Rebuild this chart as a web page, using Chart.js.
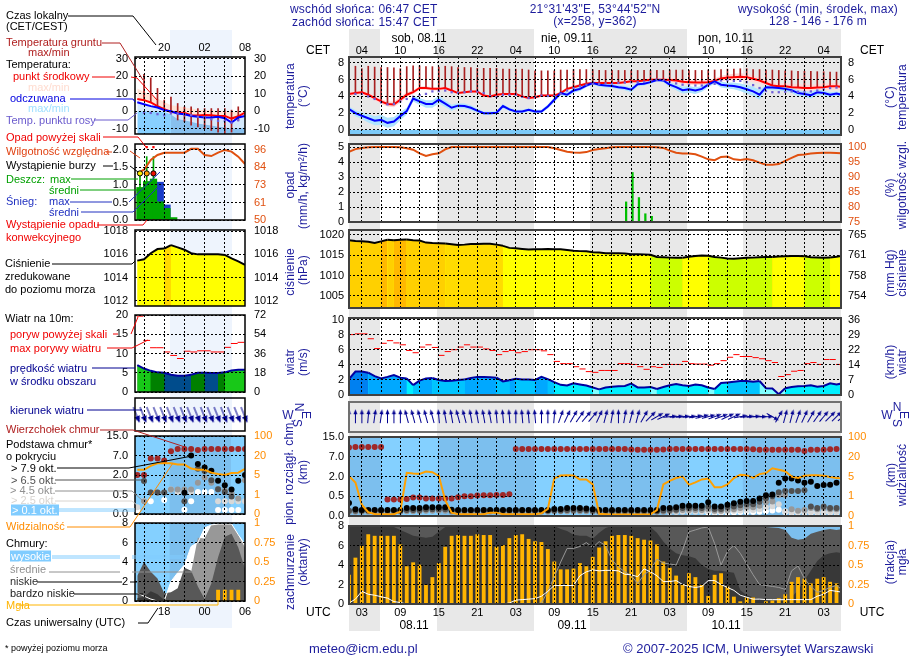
<!DOCTYPE html>
<html>
<head>
<meta charset="utf-8">
<title>Meteogram</title>
<script src="https://cdn.jsdelivr.net/npm/chart.js@4/dist/chart.umd.min.js"></script>
<style>
  html, body { margin: 0; padding: 0; background: #fff; }
  #page { position: relative; width: 910px; height: 660px; overflow: hidden; font-family: "Liberation Sans", Arial, sans-serif; }
  #page canvas { position: absolute; z-index: 1; }
  .band { position: absolute; z-index: 0; }
  .txt { position: absolute; z-index: 3; white-space: nowrap; line-height: 1; }
  svg { position: absolute; left: 0; top: 0; z-index: 2; }
</style>
</head>
<body>
<div id="page"></div>
<script>
// hourly axis, UTC hours counted from 00 on 08.11
const hours = Array.from({ length: 78 }, (_, i) => i + 1);
const utcTicks = [3, 9, 15, 21, 27, 33, 39, 45, 51, 57, 63, 69, 75];
const cetLabels = ['04', '10', '16', '22', '04', '10', '16', '22', '04', '10', '16', '22', '04'];
const utcLabels = ['03', '09', '15', '21', '03', '09', '15', '21', '03', '09', '15', '21', '03'];
const gridHours = [3, 6, 9, 12, 15, 18, 21, 24, 27, 30, 33, 36, 39, 42, 45, 48, 51, 54, 57, 60, 63, 66, 69, 72, 75];
const nightHours = [[1, 5.95], [14.85, 29.95], [38.6, 53.7], [62.4, 77.7]];

const temperature = [4.3,4.4,4.5,4.2,3.8,3.4,3.1,3.05,3.6,4.2,
  4.5,5.0,5.0,4.9,4.9,5.0,4.7,4.4,4.5,4.6,
  4.6,4.1,4.0,4.2,4.3,4.3,4.3,4.0,3.8,3.9,
  4.1,4.1,4.1,4.4,4.9,5.1,5.3,5.5,5.6,5.6,
  5.6,5.6,5.6,5.7,5.8,5.8,5.9,6.0,6.0,6.0,
  5.95,5.9,5.75,5.7,5.65,5.65,5.7,5.85,6.15,6.25,
  6.3,6.35,6.3,6.1,5.9,5.6,5.3,5.2,5.2,5.1,
  5.05,5.0,5.0,5.05,5.1,5.2,5.2,5.15];
const feelsLike = [2.5,2.0,1.7,1.4,1.1,1.2,.85,1.0,1.65,2.25,
  3.75,3.4,3.1,3.1,3.6,3.15,2.65,2.9,2.85,2.65,
  2.3,2.0,2.0,2.05,2.85,2.45,2.2,2.2,2.4,2.2,
  2.2,2.8,3.6,4.4,4.2,4.7,4.9,5.3,5.6,5.4,
  5.3,5.25,5.1,5.0,4.8,5.45,5.5,5.7,5.95,5.9,
  5.4,5.1,4.75,4.85,4.7,4.9,5.4,5.8,5.4,5.3,
  5.25,5.1,4.85,4.6,4.2,5.1,5.05,5.0,4.9,4.75,
  4.4,4.3,4.15,4.5,4.4,4.2,4.35,4.15];
const dewPoint = [4.3,4.3,4.3,4.0,3.7,3.3,3.05,3.1,3.4,3.7,
  3.95,4.15,4.3,4.6,4.65,4.7,4.5,4.4,4.5,4.6,
  4.6,4.4,4.05,3.95,4.2,4.2,4.2,3.95,3.8,3.9,
  4.1,4.05,4.05,4.3,4.7,5.0,5.2,5.4,5.5,5.5,
  5.55,5.55,5.6,5.65,5.7,5.7,5.75,5.9,6.0,5.95,
  5.75,5.55,5.4,5.35,5.3,5.3,5.4,5.5,5.9,5.9,
  5.85,5.85,5.7,5.35,5.0,4.65,4.5,4.5,4.55,4.6,
  4.55,4.55,4.6,4.7,4.85,5.0,5.05,5.0];
const tempSpread = [.2,.2,.2,.25,.3,.3,.3,.35,.35,.3,
  .25,.2,.2,.2,.2,.2,.2,.15,.15,.15,
  .15,.15,.15,.15,.15,.15,.15,.15,.15,.15,
  .15,.15,.15,.2,.2,.2,.2,.2,.2,.2,
  .2,.2,.2,.2,.2,.2,.2,.2,.2,.2,
  .25,.3,.3,.3,.3,.3,.3,.3,.3,.35,
  .4,.4,.4,.4,.35,.35,.35,.35,.35,.4,
  .4,.4,.4,.4,.4,.4,.4,.4];
const feelsSpread = [.3,.35,.4,.5,.55,.6,.6,.55,.5,.4,
  .35,.4,.45,.45,.45,.4,.35,.3,.3,.3,
  .25,.2,.2,.2,.25,.2,.2,.2,.2,.2,
  .2,.25,.3,.3,.3,.25,.25,.2,.2,.25,
  .25,.25,.25,.25,.3,.25,.2,.2,.15,.2,
  .3,.35,.4,.4,.4,.35,.3,.25,.35,.35,
  .4,.45,.5,.55,.6,.3,.3,.3,.3,.35,
  .35,.35,.4,.35,.3,.3,.25,.2];
const soilMax = [null,7.6,7.3,7.6,7.5,7.45,7.45,7.4,7.3,7.55,
  7.65,7.65,7.55,7.55,7.5,7.6,7.55,7.45,7.45,7.45,
  7.35,7.35,7.35,7.35,7.25,7.25,7.25,7.25,7.15,7.05,
  7.05,7.05,7.05,7.15,7.15,7.2,7.2,7.2,7.2,7.1,
  7.1,7.1,7.1,7.1,7.1,7.1,7.1,7.1,7.1,7.1,
  7.15,7.15,7.15,7.15,7.1,7.1,7.15,7.15,7.2,7.25,
  7.25,7.3,7.3,7.2,7.2,7.15,7.15,7.1,7.05,7.05,
  7.0,7.0,7.0,6.95,6.95,6.9,6.9,6.85];
const soilMin = [null,4.4,4.5,4.2,3.8,3.4,3.1,3.05,3.6,4.2,
  4.7,5.2,5.0,5.0,5.0,5.0,4.8,4.5,4.6,4.7,
  4.7,4.2,4.1,4.3,4.4,4.4,4.4,4.1,3.9,4.0,
  4.2,4.2,4.2,4.5,5.0,5.2,5.4,5.6,5.7,5.7,
  5.7,5.7,5.7,5.8,5.9,5.9,6.0,6.05,6.05,6.05,
  6.0,5.95,5.8,5.75,5.7,5.7,5.75,5.9,6.2,6.3,
  6.35,6.4,6.35,6.2,6.0,5.7,5.4,5.3,5.3,5.2,
  5.1,5.1,5.1,5.1,5.2,5.3,5.3,5.2];
const humidity = [98.4,99.3,99.7,99.9,100,100,100,100,99.9,99.6,
  99.1,97.9,97,97.6,97.9,99.2,100,100,100,100,
  100,100,100,100,100,100,100,100,100,100,
  100,100,99.6,99,98.4,98.2,98.1,98.3,99,99.3,
  99.6,99.9,100,100,100,100,100,100,99.9,99.7,
  98.8,98.1,97.8,97.8,97.6,96.8,95.9,95.6,96.7,96.8,
  95.9,95.7,96,95.6,94.8,94.1,94.1,94.3,95.4,96.4,
  97.3,97.5,97.8,98,98.1,98.1,98,97.9];
const rain = [0,0,0,0,0,0,0,0,0,0,
  0,0,0,0,0,0,0,0,0,0,
  0,0,0,0,0,0,0,0,0,0,
  0,0,0,0,0,0,0,0,0,0,
  0,0,0,1.34,3.3,1.63,.55,.38,0,0,
  0,0,0,0,0,0,0,0,0,0,
  .02,0,.02,.03,0,.02,0,.02,0,0,
  0,0,0,0,0,0,0,0];
const pressure = [1018.7,1018.5,1018.45,1018.3,1018.0,1018.4,1018.8,1018.7,1018.8,1018.85,
  1018.7,1018.6,1018.1,1018.0,1017.95,1017.9,1017.7,1017.5,1017.6,1017.75,
  1017.75,1017.8,1017.8,1017.6,1017.3,1016.8,1016.7,1016.55,1016.4,1016.45,
  1016.45,1016.5,1016.45,1016.45,1016.3,1016.1,1016,1015.95,1015.75,1015.65,
  1015.5,1015.45,1015.45,1015.4,1015.25,1015.25,1015.2,1015.1,1014.55,1014.5,
  1014.4,1014.35,1014.35,1014.6,1014.8,1014.95,1014.85,1014.55,1014.4,1014.2,
  1014.15,1014.25,1014.35,1014.4,1014.5,1014.55,1014.55,1014.65,1014.75,1014.8,
  1014.8,1014.75,1014.5,1014.45,1014.4,1014.45,1014.6,1014.85];
const windSpeed = [2.1,3.1,3.1,2.95,2.5,2.2,2.4,2.65,2.3,2.2,
  1.3,1.9,2.2,2.25,2.0,1.85,1.9,2.0,2.05,2.25,
  2.4,2.4,2.35,2.3,1.8,1.95,2.15,2.05,2.05,2.0,
  2.4,2.1,1.7,1.35,1.25,1.55,1.4,1.25,1.0,.75,
  1.0,1.1,1.15,1.2,1.5,1.0,1.0,1.05,.8,1.05,
  1.3,1.45,1.3,1.2,1.4,1.3,1.0,.8,1.6,1.65,
  1.75,1.85,1.85,1.75,1.85,.9,.85,.1,.9,1.05,
  1.15,1.2,1.3,1.1,1.2,1.55,1.4,1.55];
const windGust = [8,8.1,8.1,7.45,6.15,6.85,7.2,6.9,6.65,5.9,
  5.6,6.35,6.65,6.3,5.25,5.75,6,6.35,6.65,6.35,
  6.35,6.1,5.9,5.35,5.75,5.9,5.6,5.75,6,6,
  5.85,5.35,4.45,4.15,4.15,3.75,3.45,3.1,3,3.25,
  3.25,3.25,4.15,4.15,4.05,3.75,3.4,3.75,3.65,4.05,
  4.05,4.05,4.45,4.15,4.1,4.1,3.95,4.15,4.55,5,
  5.35,5.1,5.1,4.95,4.8,4.55,4.3,2.45,2.7,3.15,
  3.25,4.15,4.3,4.05,4.7,4.7,4.05,4.05];
const windDir = [0,0,0,5,8,8,0,0,0,-15,
  -15,-15,-15,-15,-5,-10,-10,-15,-15,-10,
  -10,-10,-10,-5,-5,-5,0,-5,-5,-5,
  0,0,5,20,25,30,35,40,40,25,
  15,10,0,10,15,15,30,45,60,65,
  85,85,85,85,80,75,75,70,70,65,
  65,80,85,85,90,90,120,30,15,15,
  20,25,30,35,40,45,45,50];

const cloudTop = [10.7,10.9,10.9,10.9,10.9,10.9,.42,.42,.42,.43,
  .47,.47,.44,.44,.44,.44,.44,.475,.5,.5,
  .55,.58,.58,.6,.6,.65,10.1,10.1,10.1,10.1,
  10.1,10.1,10.1,10.1,10.1,10.1,10.1,10.1,10.1,10.1,
  10.1,10.1,10.1,10.1,9.9,9.8,9.8,9.8,9.8,9.9,
  10.1,10.1,10.1,10.1,10.1,10.1,10.1,10.1,10.1,10.1,
  10.1,10.1,10.1,10,9.8,9.8,9.8,9.8,9.8,9.8,
  9.8,9.3,9.8,9.8,9.8,10,10.1,10.1];
const base79 = [.33,.17,.155,.155,.155,.155,.155,.155,.155,.2,
  .2,.2,.22,.22,.22,.22,.16,.155,.155,.155,
  .155,.155,.155,.155,.155,.155,.155,.155,.155,.155,
  .155,.155,.18,.18,.2,.2,.2,.19,.17,.15,
  .15,.15,.15,.15,.15,.15,.15,.15,.15,.2,
  .2,.22,.26,.26,.26,.26,.345,.24,.24,.285,
  .32,.36,.38,.38,.44,.58,.63,1.53,1.84,1.84,
  1.69,1.53,1.6,1.28,1.35,1.38,1.53,1.28];
const base65 = [.13,.13,.13,.13,.13,.13,.13,.13,.13,.15,
  .15,.15,.17,.17,.17,.17,.13,.13,.13,.13,
  .13,.13,.13,.13,.13,.13,.13,.13,.13,.13,
  .13,.13,.14,.14,.15,.15,.15,.15,.13,.12,
  .12,.12,.12,.12,.12,.12,.12,.12,.12,.14,
  .15,.16,.2,.2,.2,.2,.24,.18,.18,.22,
  .24,.27,.3,.3,.36,.45,.5,.8,.9,.9,
  .9,.95,.24,.2,.24,.2,.2,.24];
const base45 = [.11,.11,.11,.11,.11,.11,.11,.11,.11,.12,
  .12,.12,.13,.13,.13,.13,.11,.11,.11,.11,
  .11,.11,.11,.11,.11,.11,.11,.11,.11,.11,
  .11,.11,.12,.12,.12,.12,.12,.12,.11,.1,
  .1,.1,.1,.1,.1,.1,.1,.1,.1,.11,
  .12,.13,.15,.15,.15,.15,.17,.13,.13,.15,
  .17,.2,.22,.22,.26,.35,.37,.6,.6,.17,
  .13,.15,.2,.17,.2,.17,.17,.2];
const base25 = [null,null,null,null,null,null,null,null,null,null,
  null,null,null,null,null,null,null,null,null,null,
  null,null,null,null,null,null,null,null,null,null,
  null,null,null,null,null,null,null,null,null,null,
  null,null,null,null,null,null,null,null,null,null,
  .1,.1,.11,.11,.11,.11,.12,.11,.11,.12,
  .13,.14,.15,.15,.17,.22,.25,.3,.12,.1,
  .1,.1,.1,.1,.1,.1,.1,.1];
const base01 = [null,null,null,null,null,null,null,null,null,null,
  null,null,null,null,null,null,null,null,null,null,
  null,null,null,null,null,null,null,null,null,null,
  null,null,null,null,null,null,null,null,null,null,
  null,null,null,null,null,null,null,null,null,null,
  null,null,null,null,null,null,.09,.09,.09,.09,
  .09,.1,.1,.1,.11,.12,.14,.16,.1,.09,
  .09,.09,.09,.09,.09,.09,.09,.09];
const visibility = [5.3,3.8,.57,.19,.1,.09,.09,.09,.22,7.8,
  7.3,7,8.8,8.3,5.5,.8,.17,.09,.09,.09,
  .09,.09,.17,.17,.09,.09,.09,.09,.09,.09,
  .14,.36,4.6,5.7,6,5.7,4.4,4.4,3.4,.11,
  .09,.07,.07,.07,.07,.07,.07,.09,.3,3.4,
  4.1,4.7,5,3.3,3.8,4.4,4.6,2.8,2.8,3.4,
  4.7,6.3,6,4.7,6.8,7.6,11.3,10.2,9,5,
  4.7,5.5,6,6,5.5,4.9,4.7,4.6];

const cloudVeryLow = [8,8,8,8,8,8,8,7.9,7.6,7.3,
  7,6.9,6.8,6.9,7.4,7.9,8,8,8,8,
  8,8,8,8,8,8,8,8,8,8,
  8,8,8,7.7,7.5,7.1,7,7,6.7,7.3,
  7.8,8,8,8,8,8,8,7.9,7.3,6.4,
  5.7,5.2,5,4.9,4.7,4,3.6,3.4,3.4,3.3,
  3.2,1.4,.9,.7,.5,.4,.3,.3,.3,.7,
  1.4,2.4,3.4,4.4,5,5.2,5.3,5.2];
const cloudLow = [6.9,8,8,8,8,8,8,8,8,8,
  8,8,8,8,8,8,8,8,8,8,
  8,8,8,8,8,8,8,8,8,8,
  8,8,8,8,8,8,8,8,8,8,
  8,8,8,8,8,8,8,8,8,8,
  8,8,8,7.9,7.9,7.9,7.9,8,8,8,
  8,8,8,8,8,7.9,7.85,7.8,7.6,6.8,
  6.6,6.7,7.2,7.4,7.6,7.7,7.6,7.7];
const cloudMid = [0,0,0,0,0,0,0,0,0,0,
  0,0,0,0,0,0,0,0,0,0,
  0,0,0,0,0,0,0,0,0,0,
  .1,1.3,2.8,4.3,5.7,5.7,5.9,6.3,5.8,6.4,
  6,4.5,3.8,3.3,2.9,2.1,3,3.5,4.6,4.2,
  4.1,4,5.5,7.4,7.6,7.8,7.9,6.2,4,5.4,
  6,5.2,4.1,3,2,1.9,1.8,1.7,1.5,3.4,
  3.9,2.6,1.8,1.2,1.4,1.7,1.9,1.4];
const cloudHigh = [.1,.5,1.3,1,.9,.75,.6,.25,.15,0,
  0,0,0,0,0,0,0,0,0,0,
  0,0,0,0,0,.1,.4,.45,.5,.55,
  .8,1.3,1.9,1.9,1.9,1.9,2.9,3.3,3.5,3.4,
  3.45,3.45,3.4,3.05,3,2.8,3.6,3.3,2.9,2.3,
  2.3,2.4,2,1.8,1.7,1.8,2.4,2.4,2,1.7,
  1.4,.9,.7,.5,.5,.45,.45,.45,.45,.45,
  .45,.45,.45,.8,1,1.4,1.3,1.2];
const fog = [.37,.59,.74,.89,.87,.87,.87,.87,.76,.48,
  .53,.5,.24,.34,.52,.73,.87,.88,.87,.87,
  .89,.88,.88,.73,.75,.84,.88,.89,.83,.8,
  .79,.7,.54,.44,.44,.45,.52,.48,.6,.72,
  .8,.87,.88,.88,.87,.84,.82,.81,.76,.54,
  .46,.36,.25,.39,.34,.24,.1,.37,.39,.22,
  .09,.03,.08,.08,0,.03,.04,.07,.12,.28,
  .34,.32,.26,.32,.34,.28,.26,.28];

// legend panels on the left, hours 14..30
const legendHours = [14,15,16,17,18,19,20,21,22,23,24,25,26,27,28,29,30];
const legendGrid = [15, 18, 21, 24, 27];
const legendDay = [[18.8, 27.9]];
const legendTopTicks = [18, 24, 30];
const legendTopLabels = ['20', '02', '08'];
const legendBottomLabels = ['18', '00', '06'];
const legTemp = [7,6.3,5,2.9,1.1,-.4,-.8,-1,-2.3,-2.5,-2.1,-2.3,-2.7,-2.7,-4.2,-2.9,-.8];
const legFeels = [5.1,4,2.9,2.1,.6,0,-1.3,-1.7,-2.7,-3.2,-3.6,-3.6,-3.2,-4,-6.5,-3.6,-2.7];
const legTempMax = [13,11,9.5,7.2,5.3,3.4,2.9,2.1,1.5,1,.6,.6,.2,.2,-.4,-.4,0];
const legFeelsMin = [0,0,0,-.2,-.5,-1.8,-4.4,-5.2,-6,-7,-7.6,-8.2,-8.8,-9.2,-10,-9.7,-9.5];
const legDew = [null,-1,-1,-1.7,-2.3,-1.3,-1.3,-1.7,-2.3,-3.2,-3.6,-4.6,-5.5,-5.5,-6.5,-5.1,-2.3];
const legSoilMax = [null,21,19,13,6.3,8,4.4,2.5,2.5,1.5,1.5,1.5,1.5,1.5,.6,2.5,null];
const legSoilMin = [null,6.3,5.3,3,1,-.5,-5,-6,-8,-9,-10,-11,-11.9,-12.9,-11.9,-5.5,null];
const legHumidity = [80.6,83,89.5,92.7,94.2,94.2,94.2,94.2,96.7,96.7,92.7,92,94.2,96,94.9,91.6,86.8];
const legRainHours = [14,15,16,17,18,19];
const legRainMean = [.93,1.1,1.17,.52,.33,.07];
const legRainMax = [1.33,1.81,1.81,null,null,null];
const legSnowMax = [0,0,0,1.08,.43,0];
const legStormHours = [14,15,16];
const legStormLevel = [1.33,1.33,1.33];
const legOverHours = [15,16];
const legOverLevel = [2.08,2.08];
const legConvectiveHours = [14,15,16,17,18];
const legConvective = [0,0,0,0,0];
const legPressure = [1015.46,1015.58,1016.1,1016.46,1016.5,1016.8,1016.6,1016.4,1016.1,1016,1016,1016,1016,1015.95,1015.65,1015.4,1015.1];
const legWind = [7,6.1,5.5,5.1,5,4.5,4.2,4.2,4.5,5,5,4.95,4.95,5.1,5.6,5.8,5.8];
const legGust = [19.7,13.4,11.5,11.5,10.4,9.5,8.7,10.6,10.4,10.7,10.7,10.4,10.4,11.6,12.6,12.9,null];
const legDir = [158,158,158,158,158,158,158,158,158,158,158,158,158,158,158,158,158];
const legTop = [2,2,6.2,6.2,5.7,8.7,9.7,9.7,9.7,9.3,9.7,9.7,9.7,9.7,9.7,9.7,9.7];
const leg79 = [null,null,null,null,null,null,null,.63,7,4.8,3.9,3.1,1.56,1.22,.89,1.56,2];
const leg65 = [null,1.53,.65,.65,.65,null,null,.33,null,3.6,3,1.6,.9,.7,.45,null,null];
const leg45 = [null,.33,.65,.65,.65,.88,.88,.88,.88,1.4,1.8,1.4,.9,.8,.6,.4,1.6];
const leg25 = [.17,.33,null,null,null,.88,.7,.7,.7,null,null,null,.33,.33,.33,.33,.33];
const leg01 = [.09,.33,.33,null,.36,null,null,.11,.33,.7,.7,.7,.1,.1,.1,.1,null];
const legVisibility = [9,9,12,14,14,14,13,13,10,9,9,6.8,5.8,5,6.5,6.8,9.7];
const legCloudHigh = [.8,.5,.2,0,0,2,2.9,3.7,5.6,6,7.5,7.8,7.9,7.9,7.9,6.8,5.8];
const legCloudMid = [0,0,0,0,0,0,0,.2,3,6.5,6.4,7.8,7.9,7.9,7.9,6.8,5.5];
const legCloudLow = [2.6,4,3,2.3,.8,.9,1.3,3.4,3.1,1.5,.2,1.8,4.5,6.6,6.9,5.5,3.3];
const legCloudVeryLow = [.3,.4,1,.7,.1,0,0,0,0,0,0,0,0,0,0,0,0];
const legFog = [0,0,0,0,0,0,0,0,0,0,0,0,.14,.14,.14,.14,0];

// axis tick values and labels
const tempTicks = [8, 6, 4, 2, 0];
const tempLabels = ['8', '6', '4', '2', '0'];
const rainTicks = [5, 4, 3, 2, 1, 0];
const rainLabels = ['5', '4', '3', '2', '1', '0'];
const humTicks = [100, 95, 90, 85, 80, 75];
const humLabels = ['100', '95', '90', '85', '80', '75'];
const presTicks = [1020, 1015, 1010, 1005];
const presLabels = ['1020', '1015', '1010', '1005'];
const mmHgLabels = ['765', '761', '758', '754'];
const windTicks = [10, 8, 6, 4, 2, 0];
const windLabels = ['10', '8', '6', '4', '2', '0'];
const kmhLabels = ['36', '29', '22', '14', '7', '0'];
const baseTicks = [4, 3, 2, 1, 0];
const baseLabels = ['15.0', '7.0', '2.0', '0.5', '0.0'];
const visLabels = ['100', '20', '5', '1', '0'];
const cloudTicks = [8, 6, 4, 2, 0];
const cloudLabels = ['8', '6', '4', '2', '0'];
const fogTicks = [1, .75, .5, .25, 0];
const fogLabels = ['1', '0.75', '0.5', '0.25', '0'];
const legTempTicks = [30, 20, 10, 0, -10];
const legTempLabels = ['30', '20', '10', '0', '-10'];
const legRainTicks = [2, 1.5, 1, .5, 0];
const legRainLabels = ['2.0', '1.5', '1.0', '0.5', '0.0'];
const legHumTicks = [96, 84.5, 73, 61.5, 50];
const legHumLabels = ['96', '84', '73', '61', '50'];
const legPresTicks = [1018, 1016, 1014, 1012];
const legPresLabels = ['1018', '1016', '1014', '1012'];
const legWindTicks = [20, 15, 10, 5, 0];
const legWindLabels = ['20', '15', '10', '5', '0'];
const legKmhLabels = ['72', '54', '36', '18', '0'];

Chart.defaults.font.family = '"Liberation Sans", Arial, sans-serif';
Chart.defaults.font.size = 11;
Chart.defaults.color = '#000';

const page = document.getElementById('page');
// PAD has to stay above half a label plus the tick padding, or the scales push the chart area in
const SIDE = 50, PAD = 22;

const kmKnots = [0, .5, 2, 7, 15];
const visKnots = [0, 1, 5, 20, 100];
// the cloud axis is piecewise linear, one step between each labelled value
function toPos(v, knots) {
  if (v === null) return null;
  for (let i = 1; i < knots.length; i++) {
    if (v <= knots[i]) return i - 1 + (v - knots[i - 1]) / (knots[i] - knots[i - 1]);
  }
  return knots.length - 1;
}

function pts(xs, ys, dx) {
  return ys.map((y, i) => ({ x: xs[i] + (dx || 0), y: y }));
}
function line(xs, ys, color, width, extra) {
  return Object.assign({ type: 'line', data: pts(xs, ys), borderColor: color, borderWidth: width,
    pointRadius: 0, tension: 0, fill: false }, extra);
}
function area(xs, ys, color, fill, extra) {
  return Object.assign({ type: 'line', data: pts(xs, ys), borderWidth: 0, backgroundColor: color,
    pointRadius: 0, tension: 0, fill: fill }, extra);
}
function dots(xs, ys, color, radius, extra) {
  return Object.assign({ type: 'line', data: pts(xs, ys), showLine: false, pointRadius: radius,
    pointBackgroundColor: color, pointBorderWidth: 0 }, extra);
}
function bars(xs, ys, color, thick, dx, extra) {
  return Object.assign({ type: 'bar', data: pts(xs, ys, dx), backgroundColor: color, borderWidth: 0,
    grouped: false, barPercentage: 1, categoryPercentage: 1, maxBarThickness: thick }, extra);
}

const backdrop = {
  id: 'backdrop',
  beforeDatasetsDraw(chart, args, o) {
    if (!o.color) return;
    const a = chart.chartArea, x = chart.scales.x, ctx = chart.ctx;
    ctx.save();
    ctx.fillStyle = o.color;
    ctx.fillRect(a.left, a.top, a.width, a.height);
    ctx.fillStyle = o.shade;
    o.bands.forEach(b => {
      const x0 = x.getPixelForValue(b[0]), x1 = x.getPixelForValue(b[1]);
      ctx.fillRect(x0, a.top, x1 - x0, a.height);
    });
    ctx.restore();
  }
};
const frame = {
  id: 'frame',
  afterDraw(chart, args, o) {
    const a = chart.chartArea, ctx = chart.ctx;
    ctx.save();
    ctx.strokeStyle = o.color;
    ctx.lineWidth = o.width;
    ctx.strokeRect(a.left, a.top, a.width, a.height);
    ctx.restore();
  }
};

function yAxis(position, min, max, ticks, labels, color, padding, grid) {
  return {
    type: 'linear', position: position, min: min, max: max,
    afterBuildTicks: s => { s.ticks = ticks.map(v => ({ value: v })); },
    afterFit: s => { s.width = SIDE; },
    grid: grid ? { color: '#000', z: 1, drawTicks: false, lineWidth: 1 } : { display: false, drawTicks: false },
    border: { display: false, dash: [2, 2] },
    ticks: { display: labels.length > 0, color: color, padding: padding, autoSkip: false,
      callback: (v, i) => labels[i] }
  };
}

function panel(box, cfg) {
  const L = box[0], T = box[1], R = box[2], B = box[3];
  const c = document.createElement('canvas');
  c.width = R - L + SIDE * 2;
  c.height = B - T + PAD * 2;
  c.style.left = (L - SIDE) + 'px';
  c.style.top = (T - PAD) + 'px';
  page.appendChild(c);
  const left = cfg.left, right = cfg.right || {};
  const lMin = left.min, lMax = left.max;
  return new Chart(c, {
    type: 'line',
    data: { datasets: cfg.datasets },
    plugins: [backdrop, frame],
    options: {
      responsive: false, animation: false, devicePixelRatio: 1, events: [],
      layout: { autoPadding: false, padding: { top: PAD, bottom: PAD, left: 0, right: 0 } },
      plugins: {
        legend: { display: false }, tooltip: { enabled: false },
        backdrop: cfg.backdrop || {},
        frame: { color: cfg.frameColor || '#000', width: cfg.frameWidth || 1.5 }
      },
      scales: {
        x: {
          type: 'linear', min: cfg.xMin, max: cfg.xMax, offset: false,
          afterBuildTicks: s => { s.ticks = (cfg.xGrid || []).map(v => ({ value: v })); },
          afterFit: s => { s.height = 0; },
          grid: { color: '#000', z: 1, drawTicks: false, offset: false },
          border: { display: false, dash: [2, 2] },
          ticks: { display: false }
        },
        y: yAxis('left', lMin, lMax, left.ticks || [], left.labels || [], left.color || '#000', left.padding || 7, !left.noGrid),
        y1: yAxis('right',
          right.min !== undefined ? right.min : lMin,
          right.max !== undefined ? right.max : lMax,
          right.ticks || left.ticks || [], right.labels || [], right.color || '#000', right.padding || 8, false)
      }
    }
  });
}

// strip of hour labels, same x scale as the panels below it
function hourStrip(L, R, y, xMin, xMax, ticks, labels) {
  const c = document.createElement('canvas');
  c.width = R - L + SIDE * 2;
  c.height = 20;
  c.style.left = (L - SIDE) + 'px';
  c.style.top = y + 'px';
  page.appendChild(c);
  return new Chart(c, {
    type: 'line',
    data: { datasets: [] },
    options: {
      responsive: false, animation: false, devicePixelRatio: 1, events: [],
      layout: { autoPadding: false, padding: { left: SIDE, right: SIDE, top: 0, bottom: 0 } },
      plugins: { legend: { display: false }, tooltip: { enabled: false } },
      scales: {
        x: {
          type: 'linear', min: xMin, max: xMax,
          afterBuildTicks: s => { s.ticks = ticks.map(v => ({ value: v })); },
          afterFit: s => { s.height = 19; },
          grid: { display: false, drawTicks: false }, border: { display: false },
          ticks: { padding: 0, autoSkip: false, maxRotation: 0, callback: (v, i) => labels[i] }
        },
        y: { display: false }
      }
    }
  });
}

function arrowImage(len, head) {
  const c = document.createElement('canvas');
  c.width = c.height = len + 6;
  const g = c.getContext('2d'), m = c.width / 2;
  g.strokeStyle = g.fillStyle = '#000090';
  g.lineWidth = 1;
  g.beginPath(); g.moveTo(m, m + len / 2); g.lineTo(m, m - len / 2 + 2); g.stroke();
  g.beginPath(); g.moveTo(m, m - len / 2 - 1); g.lineTo(m + head, m - len / 2 + head * 2); g.lineTo(m - head, m - len / 2 + head * 2); g.fill();
  return c;
}

function pressureColour(v) {
  if (v >= 1018.75) return '#ffb800';
  if (v >= 1017.9) return '#ffd000';
  if (v >= 1016.85) return '#ffdc00';
  if (v >= 1014.6) return '#ffff00';
  return '#ccff00';
}
function windColour(v) {
  if (v >= 2.9) return '#0080f0';
  if (v >= 2.1) return '#00a8ff';
  if (v >= 1.7) return '#00c4ff';
  if (v >= .95) return '#00f0ff';
  return '#80ffff';
}
function legPressureColour(v) { return v >= 1016.7 ? '#ffd800' : '#ffff00'; }
function legWindColour(v) {
  if (v >= 5.5) return '#18c818';
  if (v >= 5) return '#008000';
  return '#004c8c';
}

// day/night bands, behind everything
[[349, 380], [437, 534], [590, 687], [743, 841]].forEach(b => {
  const d = document.createElement('div');
  d.className = 'band';
  d.style.cssText = `left:${b[0]}px;width:${b[1] - b[0]}px;top:29px;height:602px;background:#e8e8e8`;
  page.appendChild(d);
});
const dayBand = document.createElement('div');
dayBand.className = 'band';
dayBand.style.cssText = 'left:170px;width:62px;top:30px;height:598px;background:#eef4fd';
page.appendChild(dayBand);

const MX = { xMin: 1, xMax: 77.7, xGrid: gridHours, frameColor: '#404040', frameWidth: 2 };
const LX = { xMin: 13.66, xMax: 30, xGrid: legendGrid };

hourStrip(349, 841, 43, 1, 77.7, utcTicks, cetLabels);
hourStrip(349, 841, 605, 1, 77.7, utcTicks, utcLabels);
hourStrip(135, 245, 40, 13.66, 30, legendTopTicks, legendTopLabels);
hourStrip(135, 245, 604, 13.66, 30, legendTopTicks, legendBottomLabels);

// ---- main column ----
panel([349, 57, 841, 135], Object.assign({}, MX, {
  left: { min: -.6, max: 8.7, ticks: tempTicks, labels: tempLabels, padding: 5 },
  right: { labels: tempLabels, padding: 7 },
  datasets: [
    dots(hours, dewPoint, '#7060d8', 1.6, { pointStyle: 'rect' }),
    line(hours, feelsLike, '#0000ff', 2),
    line(hours, temperature, '#ff0000', 2),
    bars(hours, soilMax.map((v, i) => v === null ? null : [soilMin[i], v]), '#a82020', 1, 0),
    area(hours, feelsLike.map((v, i) => v + feelsSpread[i]), '#b0e4ff', '+1'),
    area(hours, feelsLike.map((v, i) => v - feelsSpread[i]), 'transparent', false),
    area(hours, temperature.map((v, i) => v + tempSpread[i]), '#ffd8d8', '+1'),
    area(hours, temperature.map((v, i) => v - tempSpread[i]), 'transparent', false),
    area(hours, hours.map(() => 0), '#7ccaf8', 'start')
  ]
}));

panel([349, 144, 841, 222], Object.assign({}, MX, {
  left: { min: 0, max: 5.2, ticks: rainTicks, labels: rainLabels, padding: 5 },
  right: { min: 75, max: 101, ticks: humTicks, labels: humLabels, color: '#e05010', padding: 7 },
  datasets: [
    line(hours, humidity, '#e05010', 2, { yAxisID: 'y1' }),
    bars(hours, rain, '#00c000', 1.6, .2)
  ]
}));

panel([349, 230, 841, 308], Object.assign({}, MX, {
  left: { min: 1002, max: 1021.2, ticks: presTicks, labels: presLabels, padding: 5 },
  right: { labels: mmHgLabels, padding: 7 },
  datasets: [
    line(hours, pressure, '#000', 2, {
      fill: 'start', backgroundColor: '#ffff00',
      segment: { backgroundColor: ctx => pressureColour(ctx.p1.parsed.y) }
    }),
    area(hours, pressure, '#ffee00', 'start')
  ]
}));

panel([349, 318, 841, 395], Object.assign({}, MX, {
  left: { min: 0, max: 10.2, ticks: windTicks, labels: windLabels, padding: 5 },
  right: { labels: kmhLabels, padding: 7 },
  datasets: [
    dots(hours, windGust, '#ff0000', 3.1, { pointStyle: 'line', pointBorderColor: '#ff0000', pointBorderWidth: 1, data: pts(hours, windGust, .4) }),
    line(hours, windSpeed, '#0000a0', 2, {
      fill: 'start', backgroundColor: '#00c4ff',
      segment: { backgroundColor: ctx => windColour(ctx.p1.parsed.y) }
    }),
    area(hours, windSpeed, '#00d0ff', 'start')
  ]
}));

const arrowMain = arrowImage(13, 2), arrowLeg = arrowImage(16, 3);
panel([349, 402, 841, 432], {
  xMin: 1, xMax: 77.7, frameColor: '#707070', frameWidth: 2,
  left: { min: -1, max: 1, noGrid: true },
  datasets: [
    dots(hours, hours.map(() => 0.02), '#000090', 1, { pointStyle: arrowMain, pointRotation: windDir })
  ]
});

panel([349, 437, 841, 516], Object.assign({}, MX, {
  backdrop: { color: '#84d0ff', shade: '#7cbfee', bands: nightHours },
  left: { min: 0, max: 4, ticks: baseTicks, labels: baseLabels, padding: 5 },
  right: { labels: visLabels, color: '#ff8c00', padding: 7 },
  datasets: [
    line(hours, visibility.map(v => toPos(v, visKnots)), '#ffa000', 2),
    dots(hours, base79.map(v => toPos(v, kmKnots)), '#000', 3),
    dots(hours, base65.map(v => toPos(v, kmKnots)), '#505050', 3),
    dots(hours, base45.map(v => toPos(v, kmKnots)), '#989898', 3),
    dots(hours, base25.map(v => toPos(v, kmKnots)), '#d8d8d8', 3),
    dots(hours, base01.map(v => toPos(v, kmKnots)), '#fff', 3),
    dots(hours, cloudTop.map(v => toPos(v, kmKnots)), '#a02828', 3)
  ]
}));

panel([349, 526, 841, 604], Object.assign({}, MX, {
  backdrop: { color: '#84d0ff', shade: '#7cbfee', bands: nightHours },
  left: { min: 0, max: 8, ticks: cloudTicks, labels: cloudLabels, padding: 5 },
  right: { min: 0, max: 1, ticks: fogTicks, labels: fogLabels, color: '#ff8c00', padding: 7 },
  datasets: [
    line(hours, cloudHigh, '#ffffff', 1),
    line(hours, cloudMid, '#989898', 1),
    bars(hours, fog, '#ffb400', 3.2, 0, { yAxisID: 'y1' }),
    area(hours, cloudVeryLow, '#383838', 'start'),
    area(hours, cloudLow, '#585858', 'start'),
    area(hours, cloudMid, '#989898', 'start'),
    area(hours, cloudHigh, '#ffffff', 'start')
  ]
}));

// ---- legend column ----
panel([135, 57, 245, 134], Object.assign({}, LX, {
  left: { min: -13, max: 30.9, ticks: legTempTicks, labels: legTempLabels },
  right: { labels: legTempLabels, padding: 9 },
  datasets: [
    dots(legendHours, legDew, '#7060d8', 1.6, { pointStyle: 'rect' }),
    line(legendHours, legFeels, '#0000ff', 2),
    line(legendHours, legTemp, '#ff0000', 2),
    bars(legendHours, legSoilMax.map((v, i) => v === null ? null : [legSoilMin[i], v]), '#a82020', 1, 0),
    area(legendHours, legFeelsMin, '#88d0ff', 'start', {
      segment: { backgroundColor: ctx => ctx.p1.parsed.x > 19 ? '#88c0ee' : '#88d0ff' }
    }),
    area(legendHours, legFeels, '#d4e8fb', '+1'),
    area(legendHours, legFeelsMin, 'transparent', false),
    area(legendHours, legTempMax, '#ffe4d8', '+1'),
    area(legendHours, legTemp, 'transparent', false)
  ]
}));

panel([135, 144, 245, 220], Object.assign({}, LX, {
  left: { min: 0, max: 2.17, ticks: legRainTicks, labels: legRainLabels },
  right: { min: 50, max: 99.9, ticks: legHumTicks, labels: legHumLabels, color: '#e05010', padding: 9 },
  datasets: [
    dots(legConvectiveHours, legConvective, '#ff0000', 1, { pointStyle: 'rect', data: pts(legConvectiveHours, legConvective, .4) }),
    dots(legStormHours, legStormLevel, ['#ffee00', '#ffa000', '#f01000'], 2.6, { pointBorderWidth: 1, pointBorderColor: '#000', data: pts(legStormHours, legStormLevel, .4) }),
    dots(legOverHours, legOverLevel, '#ff0000', 1.6, { pointStyle: 'rect', data: pts(legOverHours, legOverLevel, .4) }),
    line(legendHours, legHumidity, '#e05010', 2, { yAxisID: 'y1' }),
    bars(legRainHours, legRainMax, '#00a800', 1, .4),
    bars(legRainHours, legRainMean, '#00a800', 7, .4),
    bars(legRainHours, legSnowMax, '#1c3cc8', 7, .4)
  ]
}));

panel([135, 230, 245, 306], Object.assign({}, LX, {
  left: { min: 1011.55, max: 1018.1, ticks: legPresTicks, labels: legPresLabels },
  right: { labels: legPresLabels, padding: 9 },
  datasets: [
    line(legendHours, legPressure, '#000', 2, {
      fill: 'start', backgroundColor: '#ffff00',
      segment: { backgroundColor: ctx => legPressureColour(ctx.p1.parsed.y) }
    }),
    area(legendHours, legPressure, '#ffff00', 'start')
  ]
}));

panel([135, 315, 245, 392], Object.assign({}, LX, {
  left: { min: 0, max: 20, ticks: legWindTicks, labels: legWindLabels },
  right: { labels: legKmhLabels, padding: 9 },
  datasets: [
    dots(legendHours, legGust, '#ff0000', 3.4, { pointStyle: 'line', pointBorderColor: '#ff0000', pointBorderWidth: 1, data: pts(legendHours, legGust, .4) }),
    line(legendHours, legWind, '#0000a0', 2, {
      fill: 'start', backgroundColor: '#008000',
      segment: { backgroundColor: ctx => legWindColour(ctx.p1.parsed.y) }
    }),
    area(legendHours, legWind, '#008000', 'start')
  ]
}));

panel([135, 398, 245, 431], Object.assign({}, LX, {
  left: { min: -1, max: 1, noGrid: true },
  datasets: [
    dots(legendHours, legendHours.map(() => 0), '#000090', 1, {
      pointStyle: arrowLeg, pointRotation: legDir, clip: false,
      data: pts(legendHours, legendHours.map(() => 0), -.15)
    })
  ]
}));

panel([135, 436, 245, 514], Object.assign({}, LX, {
  backdrop: { color: '#84d0ff', shade: '#7cbfee', bands: legendDay },
  left: { min: 0, max: 4, ticks: baseTicks, labels: baseLabels },
  right: { labels: visLabels, color: '#ff8c00', padding: 9 },
  datasets: [
    line(legendHours, legVisibility.map(v => toPos(v, visKnots)), '#ffa000', 2),
    dots(legendHours, leg79.map(v => toPos(v, kmKnots)), '#000', 3),
    dots(legendHours, leg65.map(v => toPos(v, kmKnots)), '#505050', 3),
    dots(legendHours, leg45.map(v => toPos(v, kmKnots)), '#989898', 3),
    dots(legendHours, leg25.map(v => toPos(v, kmKnots)), '#d8d8d8', 3),
    dots(legendHours, leg01.map(v => toPos(v, kmKnots)), '#fff', 3),
    dots(legendHours, legTop.map(v => toPos(v, kmKnots)), '#a02828', 3)
  ]
}));

panel([135, 523, 245, 601], Object.assign({}, LX, {
  backdrop: { color: '#84d0ff', shade: '#7cbfee', bands: legendDay },
  left: { min: 0, max: 8, ticks: cloudTicks, labels: cloudLabels },
  right: { min: 0, max: 1, ticks: fogTicks, labels: fogLabels, color: '#ff8c00', padding: 9 },
  datasets: [
    line(legendHours, legCloudHigh, '#ffffff', 1),
    bars(legendHours, legFog, '#ffb400', 3.2, 0, { yAxisID: 'y1' }),
    area(legendHours, legCloudVeryLow, '#383838', 'start'),
    area(legendHours, legCloudLow, '#585858', 'start'),
    area(legendHours, legCloudMid, '#989898', 'start'),
    area(legendHours, legCloudHigh, '#ffffff', 'start')
  ]
}));

// ---- text ----
function txt(s, x, y, color, opt) {
  opt = opt || {};
  const d = document.createElement('div');
  d.className = 'txt';
  d.textContent = s;
  let t = 'translateY(-50%)';
  if (opt.center) t = 'translate(-50%,-50%)';
  if (opt.rot !== undefined) t = `translate(-50%,-50%) rotate(${opt.rot}deg)`;
  d.style.cssText = `left:${x}px;top:${y}px;color:${color};font-size:${opt.size || 11}px;transform:${t};` +
    `letter-spacing:${opt.track || 0}px;` + (opt.bg ? `background:${opt.bg};padding:0 1px;` : '') + (opt.bold ? 'font-weight:bold;' : '');
  page.appendChild(d);
}
const navy = '#1c1c9c', brick = '#b02020';
const legendText = [
  ['Czas lokalny', 6, 15, '#000'], ['(CET/CEST)', 6, 26, '#000'],
  ['Temperatura gruntu', 6, 42, brick], ['max/min', 28, 52, brick],
  ['Temperatura:', 6, 64, '#000'], ['punkt środkowy', 13, 76, '#f00000'],
  ['max/min', 28, 87, '#ffdcd0'], ['odczuwana', 10, 98, '#0000e0'],
  ['max/min', 28, 108, '#a0e0ff'], ['Temp. punktu rosy', 6, 120, '#6a5acd'],
  ['Opad powyżej skali', 6, 137, '#f00000'], ['Wilgotność względna', 6, 151, '#e04010'],
  ['Wystąpienie burzy', 6, 165, '#000'], ['Deszcz:', 6, 179, '#00a000'],
  ['max', 50, 179, '#00a000'], ['średni', 49, 190, '#00a000'],
  ['Śnieg:', 6, 201, '#2030c0'], ['max', 49, 201, '#2030c0'], ['średni', 49, 212, '#2030c0'],
  ['Wystąpienie opadu', 6, 224, '#f00000'], ['konwekcyjnego', 6, 237, '#f00000'],
  ['Ciśnienie', 5, 263, '#000'], ['zredukowane', 5, 276, '#000'], ['do poziomu morza', 5, 289, '#000'],
  ['Wiatr na 10m:', 5, 318, '#000'], ['poryw powyżej skali', 10, 334, '#f00000'],
  ['max porywy wiatru', 10, 348, '#f00000'], ['prędkość wiatru', 10, 368, '#000090'],
  ['w środku obszaru', 10, 381, '#000090'], ['kierunek wiatru', 10, 410, '#000090'],
  ['Wierzchołek chmur', 6, 429, brick], ['Podstawa chmur*', 6, 444, '#000'], ['o pokryciu', 6, 456, '#000'],
  ['> 7.9 okt.', 11, 468, '#000'], ['> 6.5 okt.', 11, 479.5, '#505050'],
  ['> 4.5 okt.', 10, 490, '#909090'], ['> 2.5 okt.', 11, 500, '#d8d4d0'],
  ['Widzialność', 6, 526, '#ff8c00'], ['Chmury:', 6, 543, '#000'],
  ['średnie', 10, 569, '#909090'], ['niskie', 10, 581, '#303030'], ['bardzo niskie', 10, 593, '#222'],
  ['Mgła', 6, 605, '#ffb400'], ['Czas uniwersalny (UTC)', 6, 622, '#000']
];
legendText.forEach(t => txt(t[0], t[1], t[2], t[3]));
txt('> 0.1 okt.', 11, 510, '#fff', { bg: '#80ccff' });
txt('wysokie', 10, 556, '#fff', { bg: '#80ccff' });
txt('* powyżej poziomu morza', 5, 648, '#000', { size: 9 });

const rotatedText = [
  ['temperatura', 290, 96], ['(°C)', 303, 96], ['opad', 290, 185], ['(mm/h, kg/m²/h)', 303, 186],
  ['ciśnienie', 290, 272], ['(hPa)', 303, 270], ['wiatr', 290, 362], ['(m/s)', 303, 362],
  ['pion. rozciągł. chm.', 289, 472], ['(km)', 303, 472], ['zachmurzenie', 290, 572], ['(oktanty)', 303, 562],
  ['temperatura', 902, 97], ['(°C)', 890, 97], ['wilgotność wzgl.', 902, 185], ['(%)', 890, 188],
  ['ciśnienie', 902, 273], ['(mm Hg)', 890, 273], ['wiatr', 902, 362], ['(km/h)', 890, 362],
  ['widzialność', 902, 475], ['(km)', 891, 475], ['mgła', 902, 562], ['(frakcja)', 890, 562]
];
rotatedText.forEach(t => txt(t[0], t[1], t[2], navy, { rot: -90, size: 12, track: .1 }));

txt('wschód słońca: 06:47 CET', 290, 9, navy, { size: 12, track: .2 });
txt('zachód słońca: 15:47 CET', 292, 22, navy, { size: 12, track: .2 });
txt('21°31\'43"E, 53°44\'52"N', 595, 9, navy, { size: 12, track: .2, center: true });
txt('(x=258,  y=362)', 595, 21, navy, { size: 12, track: .2, center: true });
txt('wysokość (min, środek, max)', 818, 9, navy, { size: 12, track: .2, center: true });
txt('128 - 146 - 176 m', 818, 21, navy, { size: 12, track: .2, center: true });
txt('sob, 08.11', 419, 38, '#000', { size: 12, center: true });
txt('nie, 09.11', 567, 38, '#000', { size: 12, center: true });
txt('pon, 10.11', 726, 38, '#000', { size: 12, center: true });
txt('08.11', 414, 625, '#000', { size: 12, center: true });
txt('09.11', 572, 625, '#000', { size: 12, center: true });
txt('10.11', 726, 625, '#000', { size: 12, center: true });
txt('CET', 306, 50, '#000', { size: 12 });
txt('CET', 872, 50, '#000', { size: 12, center: true });
txt('UTC', 306, 612, '#000', { size: 12 });
txt('UTC', 872, 612, '#000', { size: 12, center: true });
txt('meteo@icm.edu.pl', 309, 648, navy, { size: 13 });
txt('© 2007-2025 ICM, Uniwersytet Warszawski', 623, 648, navy, { size: 13 });

// compass letters, either side of the wind direction panel
txt('W', 288, 415, navy, { size: 12, center: true });
txt('N', 299, 407, navy, { size: 12, rot: 90 });
txt('E', 306, 415, navy, { size: 12, rot: 90 });
txt('S', 297, 423, navy, { size: 12, rot: 90 });
txt('W', 887, 415, navy, { size: 12, center: true });
txt('N', 897, 407, navy, { size: 12, center: true });
txt('E', 904, 415, navy, { size: 12, rot: 90 });
txt('S', 897, 423, navy, { size: 12, rot: 90 });

// leader lines from the legend labels into the legend panels
const leaders = [
  ['#000', '68,16 133,16 156,45'], [brick, '102,43 120,43 143,80'],
  ['#f00000', '92,77 115,77'], ['#f00000', '131,77 137,78 157,100'],
  ['#0000e0', '70,99 133,99 135,102'], ['#6a5acd', '94,120 128,120 137,113'],
  ['#f00000', '103,137 138,137 146,147'], ['#e04010', '106,152 112,152'], ['#e04010', '130,151 140,158'],
  ['#000', '103,166 113,166'], ['#000', '130,166 138,172'],
  ['#00a000', '71,179 138,179'], ['#00a000', '80,190 143,190'],
  ['#2030c0', '70,202 112,202'], ['#2030c0', '129,202 160,172'], ['#2030c0', '81,212 133,212 158,187'],
  ['#f00000', '97,225 143,225 147,220'], ['#000', '52,264 132,264 135,261'],
  ['#f00000', '113,334 118,334'], ['#f00000', '131,334 138,317'], ['#f00000', '107,348 132,348 148,340'],
  ['#000090', '92,368 135,368'], ['#000090', '87,410 142,410'], [brick, '100,430 133,430 185,447'],
  ['#000', '57,468 129,468 192,456'], ['#505050', '55,480 143,480'], ['#909090', '55,491 132,491 143,501'],
  ['#d8d4d0', '55,501 132,501 137,505'], ['#80ccff', '55,509 135,509'], ['#80ccff', '55,511 135,511'],
  ['#ff8c00', '67,527 130,527 173,463'], ['#80ccff', '52,556 120,556'], ['#80ccff', '52,558 120,558'],
  ['#80ccff', '132,556 187,556'], ['#80ccff', '132,558 187,558'], ['#909090', '49,572 120,572'], ['#909090', '132,572 193,572'],
  ['#000', '37,582 122,582'], ['#000', '130,582 137,582'], ['#000', '74,594 143,594'],
  ['#ffb400', '17,605 218,605 218,593'], ['#000', '138,623 148,623 158,608']
];
const svgNS = 'http://www.w3.org/2000/svg';
const svg = document.createElementNS(svgNS, 'svg');
svg.setAttribute('width', 910);
svg.setAttribute('height', 660);
leaders.forEach(l => {
  const p = document.createElementNS(svgNS, 'polyline');
  p.setAttribute('points', l[1]);
  p.setAttribute('fill', 'none');
  p.setAttribute('stroke', l[0]);
  p.setAttribute('stroke-width', 1);
  svg.appendChild(p);
});
page.appendChild(svg);
</script>
</body>
</html>
